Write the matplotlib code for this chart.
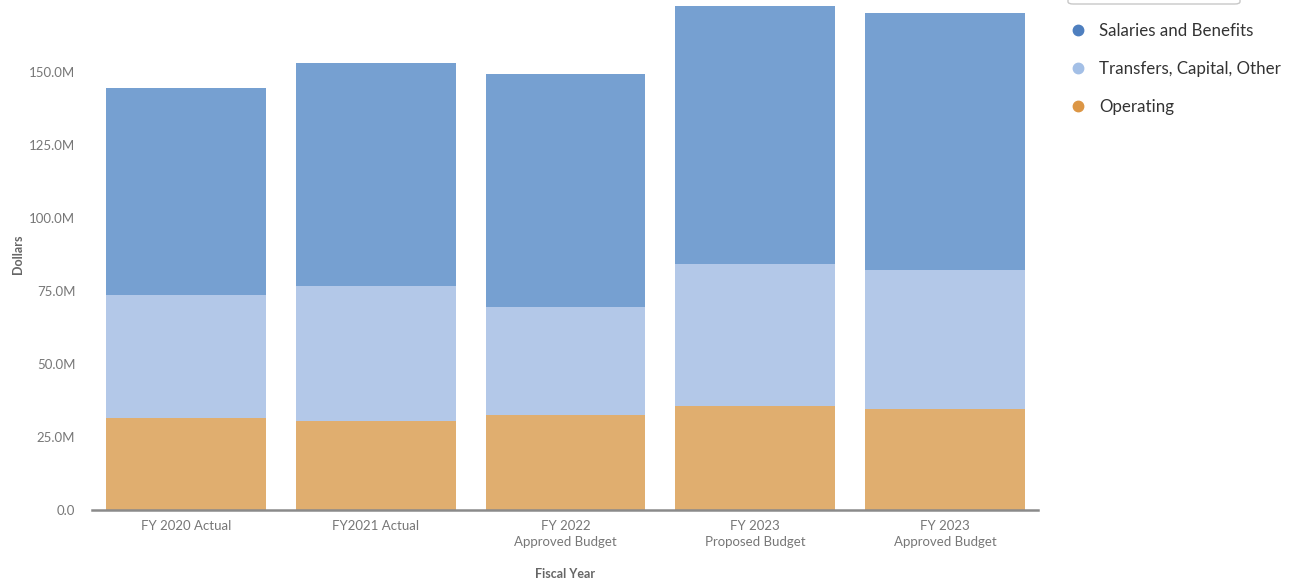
import matplotlib.pyplot as plt
import numpy as np
from matplotlib.lines import Line2D
from matplotlib.patches import FancyBboxPatch
from matplotlib.ticker import FuncFormatter

plt.rcParams["font.family"] = ["Lato", "DejaVu Sans"]

years = ["FY 2020 Actual", "FY2021 Actual", "FY 2022\nApproved Budget",
         "FY 2023\nProposed Budget", "FY 2023\nApproved Budget"]
# millions of dollars
operating = [31.5, 30.5, 32.5, 35.6, 34.6]
transfers = [42.1, 46.2, 37.0, 48.6, 47.6]
salaries = [70.9, 76.4, 79.8, 88.4, 88.0]

series_names = ["Salaries and Benefits", "Transfers, Capital, Other", "Operating"]
bar_colors = ["#76a0d1", "#b3c8e8", "#e0ae6f"]
dot_colors = ["#4e7fbf", "#a3bfe6", "#dc9645"]

label_grey = "#777777"

fig = plt.figure(figsize=(12.92, 5.83), dpi=100)
ax = fig.add_axes([92 / 1292, 73 / 583, 946 / 1292, 510 / 583])

x = np.arange(len(years))
width = 0.842
ax.bar(x, operating, width, color=bar_colors[2])
ax.bar(x, transfers, width, bottom=operating, color=bar_colors[1])
ax.bar(x, salaries, width, bottom=np.add(operating, transfers), color=bar_colors[0])

ax.set_xlim(-0.495, 4.49)
ax.set_ylim(0, 174.7)
ax.set_yticks([0, 25, 50, 75, 100, 125, 150])
ax.yaxis.set_major_formatter(FuncFormatter(lambda v, _: "0.0" if v == 0 else f"{v:.1f}M"))
ax.set_xticks(x)
ax.set_xticklabels(years, fontsize=9.5, color=label_grey, linespacing=1.45)
ax.tick_params(axis="y", length=0, labelsize=9.5, labelcolor=label_grey, pad=12)
ax.tick_params(axis="x", length=0, pad=7)

for side in ["top", "right", "left"]:
    ax.spines[side].set_visible(False)
ax.spines["bottom"].set_color("#8a8a8a")
ax.spines["bottom"].set_linewidth(1.8)

fig.text(18 / 1292, 1 - 254 / 583, "Dollars", fontsize=9, fontweight="bold",
         color="#666666", rotation=90, ha="center", va="center")
fig.text(565 / 1292, 1 - 574 / 583, "Fiscal Year", fontsize=9, fontweight="bold",
         color="#666666", ha="center", va="center")

# dropdown box partly visible at top of legend
box = FancyBboxPatch((1068 / 1292, 1 - 4 / 583), 172 / 1292, 20 / 583,
                     boxstyle="round,pad=0,rounding_size=0.004",
                     transform=fig.transFigure, facecolor="white",
                     edgecolor="#c8c8c8", linewidth=1)
fig.patches.append(box)

handles = [Line2D([], [], marker="o", linestyle="", markersize=7.5,
                  markerfacecolor=c, markeredgecolor=c) for c in dot_colors]
fig.legend(handles, series_names, loc="upper left",
           bbox_to_anchor=(1061 / 1292, 1 - 16 / 583), frameon=False,
           fontsize=12.2, labelspacing=1.3, handletextpad=0.65, handlelength=1.2,
           labelcolor="#333333", borderaxespad=0)

fig.savefig("out.png", dpi=100)
